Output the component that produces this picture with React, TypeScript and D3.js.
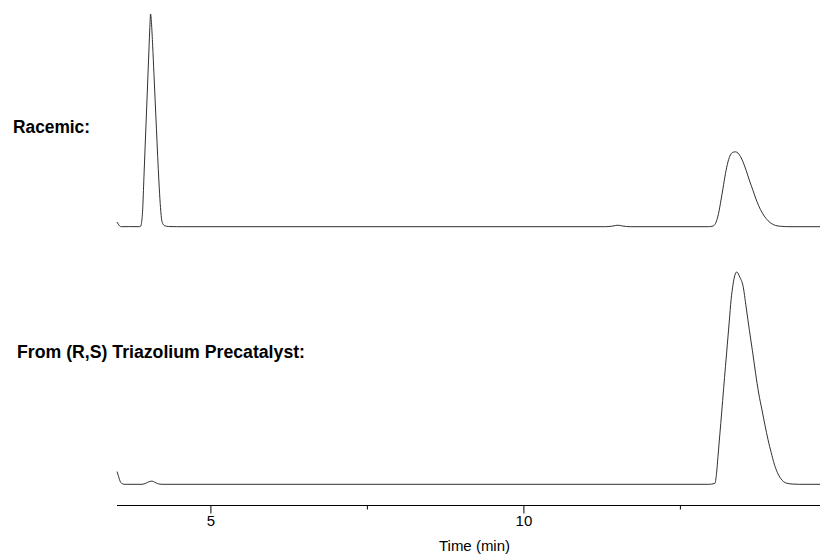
import React from "react";
import * as d3 from "d3";

// Time (min), detector signal (% of main peak height)
const racemicTime = [
  3.5, 3.52, 3.54, 3.57, 3.7, 3.85, 3.88, 3.89, 3.91, 3.93, 3.95, 3.97, 3.99, 4.01, 4.025, 4.037,
  4.05, 4.07, 4.09, 4.11, 4.13, 4.15, 4.17, 4.19, 4.21, 4.23, 4.26, 4.32, 4.45,
  11.3, 11.42, 11.5, 11.58, 11.7,
  12.95, 13.02, 13.06, 13.1, 13.14, 13.18, 13.22, 13.26, 13.3, 13.34, 13.38, 13.42, 13.46, 13.5,
  13.55, 13.6, 13.66, 13.72, 13.78, 13.84, 13.9, 13.96, 14.02, 14.1, 14.25, 14.73,
];
const racemicSignal = [
  2.2, 1.2, 0.4, 0, 0.05, 0, 0.3, 1.5, 8, 23, 38, 53, 68, 83, 94, 100,
  96, 85, 72, 59, 46, 33, 21, 11, 4, 1.5, 0.5, 0.1, 0,
  0, 0.3, 0.7, 0.3, 0,
  0, 0.3, 1.5, 5, 11, 18, 25, 30.5, 33.8, 35, 35.2, 34.6, 33, 30.5,
  26.5, 22, 17, 12, 8, 5, 2.8, 1.4, 0.6, 0.2, 0, 0,
];

const precatTime = [
  3.5, 3.52, 3.54, 3.56, 3.59, 3.63, 3.9, 3.96, 4.01, 4.06, 4.1, 4.15, 4.22,
  12.95, 13.05, 13.077, 13.1, 13.13, 13.16, 13.19, 13.22, 13.25, 13.28, 13.31, 13.34, 13.37, 13.4,
  13.45, 13.5, 13.55, 13.6, 13.65, 13.7, 13.75, 13.8, 13.85, 13.9, 13.95, 14.0, 14.05, 14.1,
  14.15, 14.2, 14.3, 14.4, 14.73,
];
const precatSignal = [
  6, 4.2, 2.2, 0.9, 0.2, 0, 0, 0.5, 1.2, 1.5, 1.0, 0.3, 0,
  0, 0.4, 5, 13, 23.5, 34, 45, 55.5, 66, 76.5, 87, 94, 98.5, 100,
  97.5, 93.5, 83.5, 73, 63, 52.5, 43, 35.5, 28, 21, 15, 9.5, 5.5, 2.8,
  1.2, 0.5, 0.1, 0, 0,
];

const majorTicks = [5, 10];
const minorTicks = [7.5, 12.5];
const xDomain = [3.5, 14.73];
const traceLabels = ["Racemic:", "From (R,S) Triazolium Precatalyst:"];
const axisTitle = "Time (min)";

const W = 820;
const H = 554;
const FONT = "'Liberation Sans', Arial, Helvetica, sans-serif";

export default function App() {
  const x = d3.scaleLinear().domain(xDomain).range([117, 820]);
  const yTop = d3.scaleLinear().domain([0, 100]).range([226.7, 14]);
  const yBot = d3.scaleLinear().domain([0, 100]).range([484.3, 272]);

  const mk = (ys: d3.ScaleLinear<number, number>) =>
    d3
      .line<[number, number]>()
      .x((d) => x(d[0]))
      .y((d) => ys(d[1]))
      .curve(d3.curveMonotoneX);

  const topData = racemicTime.map((t, i) => [t, racemicSignal[i]] as [number, number]);
  const botData = precatTime.map((t, i) => [t, precatSignal[i]] as [number, number]);

  const axisY = 505.5;

  return (
    <svg
      width={W}
      height={H}
      style={{ position: "absolute", left: 0, top: 0, background: "#fff" }}
      fontFamily={FONT}
    >
      <rect width={W} height={H} fill="#fff" />
      <path d={mk(yTop)(topData) || ""} fill="none" stroke="#1a1a1a" strokeWidth={0.9} />
      <path d={mk(yBot)(botData) || ""} fill="none" stroke="#1a1a1a" strokeWidth={0.9} />

      <text x={13} y={132.7} fontSize={18} fontWeight="bold" textLength={77} lengthAdjust="spacingAndGlyphs">
        {traceLabels[0]}
      </text>
      <text x={17} y={357.5} fontSize={18} fontWeight="bold" textLength={288} lengthAdjust="spacingAndGlyphs">
        {traceLabels[1]}
      </text>

      <line x1={x(xDomain[0])} x2={x(xDomain[1])} y1={axisY} y2={axisY} stroke="#000" strokeWidth={1} />
      {majorTicks.map((t) => (
        <g key={t}>
          <line x1={x(t)} x2={x(t)} y1={axisY} y2={axisY + 8} stroke="#000" strokeWidth={1} />
          <text x={x(t)} y={526} fontSize={15} textAnchor="middle">
            {t}
          </text>
        </g>
      ))}
      {minorTicks.map((t) => (
        <line key={t} x1={x(t)} x2={x(t)} y1={axisY} y2={axisY + 4} stroke="#000" strokeWidth={1} />
      ))}
      <text x={474.5} y={550.7} fontSize={15} textAnchor="middle">
        {axisTitle}
      </text>
    </svg>
  );
}
